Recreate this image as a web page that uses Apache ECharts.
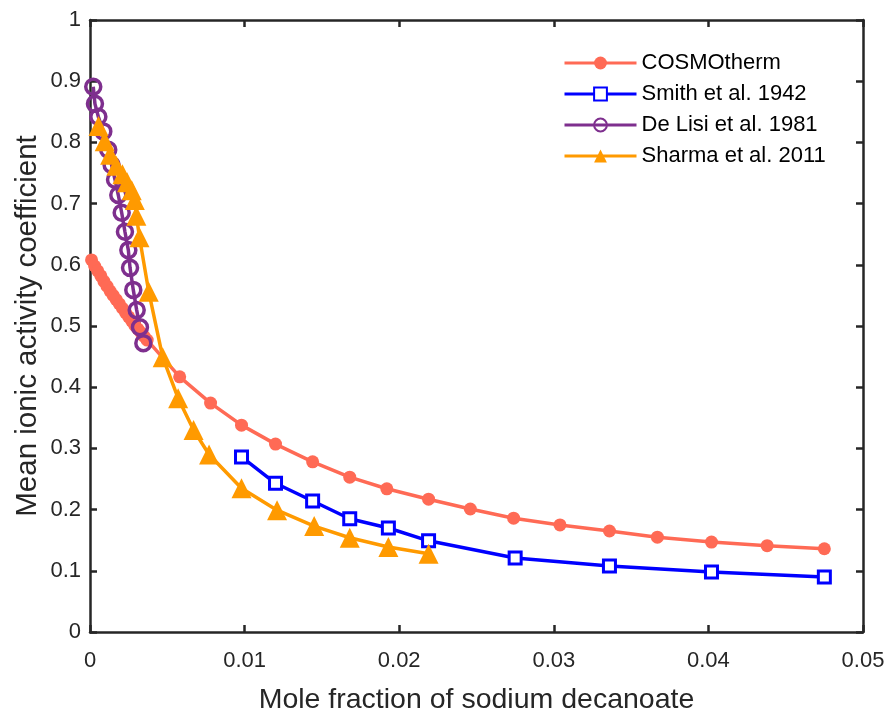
<!DOCTYPE html>
<html>
<head>
<meta charset="utf-8">
<script src="https://cdn.jsdelivr.net/npm/echarts@6/dist/echarts.min.js"></script>
<style>html,body{margin:0;padding:0;background:#fff}#c{width:891px;height:709px}</style>
</head>
<body>
<div id="c"></div>
<script>
var seriesNames = ['COSMOtherm', 'Smith et al. 1942', 'De Lisi et al. 1981', 'Sharma et al. 2011'];
var xTicks = [0, 0.01, 0.02, 0.03, 0.04, 0.05];
var yTicks = [0, 0.1, 0.2, 0.3, 0.4, 0.5, 0.6, 0.7, 0.8, 0.9, 1];

var cosmoX = [0.0001,0.0003,0.0005,0.0007,0.0009,0.0011,0.0013,0.0015,0.0017,0.0019,0.0021,0.0023,0.0025,0.0027,0.0029,0.0031,0.0033,0.0035,0.0037,
  0.0058,0.0078,0.0098,0.0120,0.0144,0.0168,0.0192,0.0219,0.0246,0.0274,0.0304,0.0336,0.0367,0.0402,0.0438,0.0475];
var cosmoY = [0.608,0.598,0.590,0.582,0.573,0.565,0.557,0.550,0.543,0.536,0.529,0.522,0.515,0.508,0.501,0.495,0.489,0.483,0.477,
  0.417,0.374,0.338,0.307,0.278,0.253,0.234,0.217,0.201,0.186,0.175,0.165,0.155,0.147,0.141,0.136];

var smithX = [0.0098,0.0120,0.0144,0.0168,0.0193,0.0219,0.0275,0.0336,0.0402,0.0475];
var smithY = [0.286,0.243,0.214,0.185,0.170,0.149,0.121,0.108,0.098,0.090];

var delisiX = [0.00021,0.00032,0.00054,0.00086,0.00118,0.0014,0.00162,0.00183,0.00205,0.00226,0.00248,0.00259,0.0028,0.00302,0.00323,0.00345];
var delisiY = [0.891,0.863,0.842,0.818,0.788,0.763,0.739,0.714,0.685,0.654,0.624,0.595,0.559,0.526,0.498,0.472];

var sharmaX = [0.00055,0.00095,0.0013,0.0017,0.0021,0.0024,0.0027,0.0029,0.0030,0.0032,0.0038,0.0047,0.0057,0.0067,0.0077,0.0098,0.0121,0.0145,0.0168,0.0193,0.0219];
var sharmaY = [0.827,0.802,0.780,0.762,0.748,0.735,0.722,0.706,0.680,0.645,0.556,0.449,0.382,0.330,0.290,0.235,0.199,0.173,0.154,0.139,0.128];

function pairs(xs, ys) { return xs.map(function (x, i) { return [x, ys[i]]; }); }

var axisColor = '#262626';
var fontFam = '"Liberation Sans", Arial, sans-serif';
var lineStyleAxis = { color: axisColor, width: 2.5 };

var chart = echarts.init(document.getElementById('c'), null, { renderer: 'canvas' });
chart.setOption({
  animation: false,
  backgroundColor: '#fff',
  grid: { left: 90, right: 28, top: 20, bottom: 77, containLabel: false, outerBoundsMode: 'none' },
  legend: {
    orient: 'vertical',
    left: 558, top: 47,
    itemWidth: 72, itemHeight: 16, itemGap: 9,
    lineStyle: { width: 3 },
    textStyle: { fontFamily: fontFam, fontSize: 22, color: '#000' },
    data: seriesNames
  },
  xAxis: [{
    type: 'value', min: 0, max: 0.05, interval: 0.01,
    name: 'Mole fraction of sodium decanoate', nameLocation: 'middle', nameGap: 54,
    nameMoveOverlap: false,
    nameTextStyle: { fontFamily: fontFam, fontSize: 28.5, color: axisColor, verticalAlign: 'top' },
    axisLine: { show: true, onZero: false, lineStyle: lineStyleAxis },
    axisTick: { show: true, inside: true, length: 7, lineStyle: lineStyleAxis },
    axisLabel: { fontFamily: fontFam, fontSize: 22, color: axisColor, margin: 18,
      formatter: function (v) { return String(+v.toFixed(2)); } },
    splitLine: { show: false }
  }, {
    type: 'value', position: 'top', min: 0, max: 0.05, interval: 0.01,
    axisLine: { show: true, onZero: false, lineStyle: lineStyleAxis },
    axisTick: { show: true, inside: true, length: 7, lineStyle: lineStyleAxis },
    axisLabel: { show: false }, splitLine: { show: false }
  }],
  yAxis: [{
    type: 'value', min: 0, max: 1, interval: 0.1,
    name: 'Mean ionic activity coefficient', nameLocation: 'middle', nameGap: 47,
    nameMoveOverlap: false,
    nameTextStyle: { fontFamily: fontFam, fontSize: 29.5, color: axisColor },
    axisLine: { show: true, onZero: false, lineStyle: lineStyleAxis },
    axisTick: { show: true, inside: true, length: 7, lineStyle: lineStyleAxis },
    axisLabel: { fontFamily: fontFam, fontSize: 22, color: axisColor, margin: 9,
      formatter: function (v) { return String(+v.toFixed(1)); } },
    splitLine: { show: false }
  }, {
    type: 'value', position: 'right', min: 0, max: 1, interval: 0.1,
    axisLine: { show: true, onZero: false, lineStyle: lineStyleAxis },
    axisTick: { show: true, inside: true, length: 7, lineStyle: lineStyleAxis },
    axisLabel: { show: false }, splitLine: { show: false }
  }],
  series: [{
    name: seriesNames[0], type: 'line', data: pairs(cosmoX, cosmoY),
    symbol: 'circle', symbolSize: 13, showAllSymbol: true,
    lineStyle: { color: '#FF6A55', width: 3.5 },
    itemStyle: { color: '#FF6A55', borderWidth: 0 }
  }, {
    name: seriesNames[1], type: 'line', data: pairs(smithX, smithY),
    symbol: 'rect', symbolSize: 12, showAllSymbol: true,
    lineStyle: { color: '#0000FF', width: 3.5 },
    itemStyle: { color: '#fff', borderColor: '#0000FF', borderWidth: 3 }
  }, {
    name: seriesNames[2], type: 'line', data: pairs(delisiX, delisiY),
    symbol: 'circle', symbolSize: 15, showAllSymbol: true,
    lineStyle: { color: '#7E2F8E', width: 3.5 },
    itemStyle: { color: 'rgba(255,255,255,0)', borderColor: '#7E2F8E', borderWidth: 3.5 }
  }, {
    name: seriesNames[3], type: 'line', data: pairs(sharmaX, sharmaY),
    symbol: 'triangle', symbolSize: 20, showAllSymbol: true,
    lineStyle: { color: '#FF9A00', width: 3.5 },
    itemStyle: { color: '#FF9A00', borderWidth: 0 }
  }]
});
</script>
</body>
</html>
